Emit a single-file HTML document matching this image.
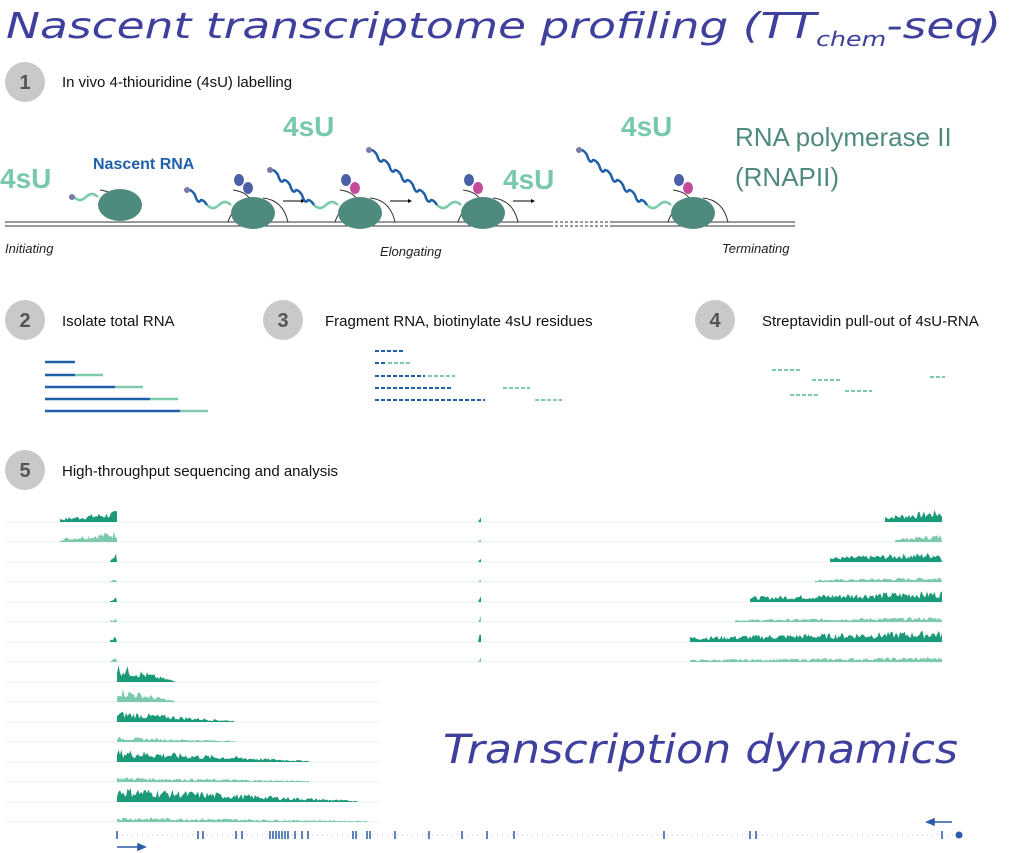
<!DOCTYPE html>
<html><head><meta charset="utf-8">
<style>
body{margin:0;background:#fff;width:1024px;height:853px;overflow:hidden;font-family:"Liberation Sans",sans-serif;}
svg{position:absolute;left:0;top:0}
</style></head><body>
<svg id="s" width="1024" height="853" viewBox="0 0 1024 853" xmlns="http://www.w3.org/2000/svg" font-family="Liberation Sans, sans-serif">
<text x="6" y="38" font-family="DejaVu Sans, sans-serif" font-style="italic" font-size="36" fill="#3f3f9e" textLength="995" lengthAdjust="spacingAndGlyphs">Nascent transcriptome profiling (TT<tspan font-size="20" dy="8">chem</tspan><tspan dy="-8">-seq)</tspan></text>
<g fill="#c9c9c9"><circle cx="25" cy="82" r="20"/><circle cx="25" cy="320" r="20"/><circle cx="283" cy="320" r="20"/><circle cx="715" cy="320" r="20"/><circle cx="25" cy="470" r="20"/></g>
<g font-size="20" font-weight="bold" fill="#555" text-anchor="middle"><text x="25" y="89">1</text><text x="25" y="327">2</text><text x="283" y="327">3</text><text x="715" y="327">4</text><text x="25" y="477">5</text></g>
<g font-size="15" fill="#111"><text x="62" y="87">In vivo 4-thiouridine (4sU) labelling</text><text x="62" y="326">Isolate total RNA</text><text x="325" y="326">Fragment RNA, biotinylate 4sU residues</text><text x="762" y="326">Streptavidin pull-out of 4sU-RNA</text><text x="62" y="476">High-throughput sequencing and analysis</text></g>
<g stroke="#333" stroke-width="1" fill="none"><line x1="5" y1="222" x2="550" y2="222"/><line x1="5" y1="226" x2="550" y2="226"/><line x1="610" y1="222" x2="795" y2="222"/><line x1="610" y1="226" x2="795" y2="226"/><line x1="550" y1="222" x2="610" y2="222" stroke-dasharray="3,2"/><line x1="550" y1="226" x2="610" y2="226" stroke-dasharray="3,2"/></g>
<g id="pol"></g>
<g font-size="28" font-weight="bold" fill="#78c9ab"><text x="0" y="188">4sU</text><text x="283" y="136">4sU</text><text x="503" y="189">4sU</text><text x="621" y="136">4sU</text></g>
<text x="93" y="169" font-size="16" font-weight="bold" fill="#1f60a8">Nascent RNA</text>
<g font-size="26" fill="#4f8a7f"><text x="735" y="146">RNA polymerase II</text><text x="735" y="186">(RNAPII)</text></g>
<g font-size="13" font-style="italic" fill="#222"><text x="5" y="253">Initiating</text><text x="380" y="256">Elongating</text><text x="722" y="253">Terminating</text></g>
<g stroke-width="2.5"><g stroke="#1f60a8"><line x1="45" y1="362" x2="75" y2="362"/><line x1="45" y1="375" x2="75" y2="375"/><line x1="45" y1="387" x2="115" y2="387"/><line x1="45" y1="399" x2="150" y2="399"/><line x1="45" y1="411" x2="180" y2="411"/></g>
<g stroke="#7cc9ab"><line x1="75" y1="375" x2="103" y2="375"/><line x1="115" y1="387" x2="143" y2="387"/><line x1="150" y1="399" x2="178" y2="399"/><line x1="180" y1="411" x2="208" y2="411"/></g></g>
<g stroke-width="2" stroke-dasharray="4,2"><g stroke="#1f60a8"><line x1="375" y1="351" x2="405" y2="351"/><line x1="375" y1="363" x2="385" y2="363"/><line x1="375" y1="376" x2="425" y2="376"/><line x1="375" y1="388" x2="452" y2="388"/><line x1="375" y1="400" x2="485" y2="400"/></g>
<g stroke="#7cc9ab"><line x1="388" y1="363" x2="412" y2="363"/><line x1="428" y1="376" x2="455" y2="376"/><line x1="503" y1="388" x2="530" y2="388"/><line x1="535" y1="400" x2="562" y2="400"/>
<line x1="772" y1="370" x2="800" y2="370"/><line x1="812" y1="380" x2="840" y2="380"/><line x1="930" y1="377" x2="945" y2="377"/><line x1="790" y1="395" x2="818" y2="395"/><line x1="845" y1="391" x2="872" y2="391"/></g></g>
<g id="tr"></g>
<text x="443" y="763" font-family="DejaVu Sans, sans-serif" font-style="italic" font-size="40" fill="#3f3f9e" textLength="515" lengthAdjust="spacingAndGlyphs">Transcription dynamics</text>
<line x1="117" y1="835" x2="958" y2="835" stroke="#a9bbd6" stroke-width="1" stroke-dasharray="1,4"/>
<g id="gene" stroke="#2a5ca8" stroke-width="1.5"></g>
<circle cx="959" cy="835" r="3.5" fill="#2a5ca8"/>
<g stroke="#2a5ca8" stroke-width="1.5" fill="#2a5ca8"><line x1="117" y1="847" x2="138" y2="847"/><polygon points="138,844 145,847 138,850"/><line x1="932" y1="822" x2="952" y2="822"/><polygon points="934,819 927,822 934,825"/></g>
</svg>
<script>
(function(){
var NS="http://www.w3.org/2000/svg";
function el(t,a,p){var e=document.createElementNS(NS,t);for(var k in a)e.setAttribute(k,a[k]);document.getElementById(p).appendChild(e);return e;}
var pols=[[120,205,0,0],[253,213,1,25],[360,213,2,60],[483,213,2,95],[693,213,3,95]];
pols.forEach(function(p,i){var x=p[0],y=p[1];
 if(i>0){el("path",{d:"M"+(x-25)+" 222 Q"+(x-20)+" 205 "+x+" 205",stroke:"#333",fill:"none","stroke-width":1},"pol");el("path",{d:"M"+(x+10)+" 198 Q"+(x+30)+" 200 "+(x+35)+" 222",stroke:"#333",fill:"none","stroke-width":1},"pol");}
 el("path",{d:"M"+(x-20)+" 190 Q"+(x-5)+" 192 "+(x-2)+" 202",stroke:"#333",fill:"none","stroke-width":1},"pol");
 el("ellipse",{cx:x,cy:y,rx:22,ry:16,fill:"#4f8a7f"},"pol");
 var d="M"+(x-22)+" "+(y-8)+" q-6 -6 -12 0 q-6 6 -12 0";
 el("path",{d:d,stroke:"#7cc9ab",fill:"none","stroke-width":2.5},"pol");
 var sx=x-46,sy=y-8,L=p[3];
 if(L>0){var dd="M"+sx+" "+sy,n=Math.round(L/9);for(var j=0;j<n;j++){dd+=" q-3 "+(j%2?5:-5)+" -6 -5";}
  el("path",{d:dd,stroke:"#1f60a8",fill:"none","stroke-width":2.5},"pol");sx-=6*n;sy-=5*n;}
 el("circle",{cx:sx-2,cy:sy,r:3,fill:"#7a7aa8"},"pol");
 if(i>0){el("ellipse",{cx:x-14,cy:y-33,rx:5,ry:6,fill:"#4a5fa8"},"pol");el("ellipse",{cx:x-5,cy:y-25,rx:5,ry:6,fill:i>1?"#c54a9a":"#4a5fa8"},"pol");}
 if(i<4&&i>0){el("line",{x1:x+30,y1:y-12,x2:x+48,y2:y-12,stroke:"#000"},"pol");el("polygon",{points:(x+48)+","+(y-14)+" "+(x+52)+","+(y-12)+" "+(x+48)+","+(y-10),fill:"#000"},"pol");}
});
var seed=7;function r(){seed=(seed*9301+49297)%233280;return seed/233280;}
var D="#1a9a78",Lc="#7cc9ab";
function track(y,x0,x1,c,segs){el("line",{x1:x0,y1:y,x2:x1,y2:y,stroke:"#dbede6","stroke-width":0.8},"tr");
 segs.forEach(function(s){var a=s[0],b=s[1],h0=s[2],h1=s[3];var d="M"+a+" "+y;for(var x=a;x<=b;x+=1.5){var t=(x-a)/(b-a);var h=(h0+(h1-h0)*t)*(0.4+r()*0.9);d+=" L"+x.toFixed(1)+" "+(y-h).toFixed(1);}d+=" L"+b+" "+y+"Z";el("path",{d:d,fill:c},"tr");});}
var tops=[[885,10],[895,6],[830,8],[815,4],[750,9],[735,4],[690,9],[690,4]];
for(var i=0;i<8;i++){var y=522+20*i,c=i%2?Lc:D;var s=[[tops[i][0],942,tops[i][1]*0.5,tops[i][1]]];
 if(i<2)s.push([60,117,3,9]);else s.push([110,117,1,(i%2?4:8)]);
 s.push([478,481,0,i>=4?(i%2?8:14):5]);
 track(y,5,942,c,s);}
var bot=[175,175,235,235,310,310,358,368];var bh=[15,12,9,4,10,4,12,4];
for(var i=0;i<8;i++){var y=682+20*i,c=i%2?Lc:D;track(y,5,380,c,[[117,bot[i],bh[i],1]]);}
[117,198,203,236,242,270,273,276,279,282,285,288,295,302,308,353,356,367,370,395,429,462,487,514,664,750,756,942].forEach(function(x){el("line",{x1:x,y1:831,x2:x,y2:839},"gene");});
})();
</script>
</body></html>
